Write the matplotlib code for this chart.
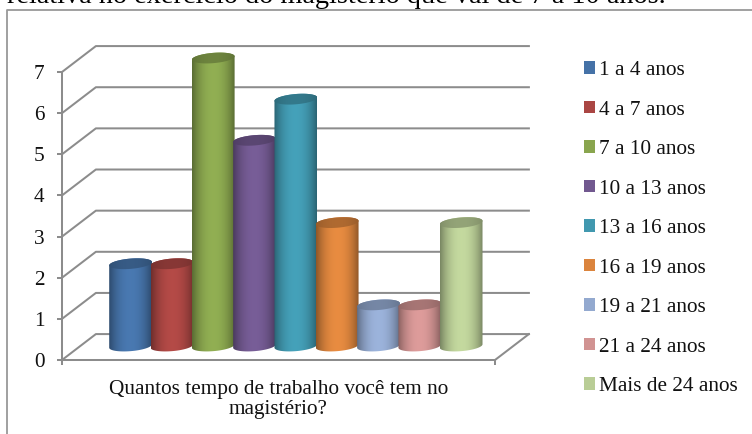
import numpy as np
import matplotlib
matplotlib.use("Agg")
import matplotlib.pyplot as plt
from matplotlib.lines import Line2D
from matplotlib.patches import Patch, Polygon

plt.rcParams['font.family'] = ['Liberation Serif', 'DejaVu Serif']

# --- data ---------------------------------------------------------------
categories = ["1 a 4 anos", "4 a 7 anos", "7 a 10 anos", "10 a 13 anos", "13 a 16 anos",
              "16 a 19 anos", "19 a 21 anos", "21 a 24 anos", "Mais de 24 anos"]
values = [2, 2, 7, 5, 6, 3, 1, 1, 3]
value_ticks = [0, 1, 2, 3, 4, 5, 6, 7]
xlabel = "Quantos tempo de trabalho você tem no\nmagistério?"
top_line = "relativa no exercício do magistério que vai de 7 a 10 anos."

colors = ["#4572A7", "#AA4643", "#89A54E", "#71588F", "#4198AF",
          "#DB843D", "#93A9CF", "#D19392", "#B9CD96"]

# --- layout (pixels of the 752x434 figure) ------------------------------
W, H = 752, 434
GRID = "#8c8c8c"
LW = 1.45
DX, DY = 0.82, 0.63       # depth of the 3d box, in data units
BASE = 0.34               # cylinder base sits this far up the floor
BAR_W = 1.035
ELL_B = 0.125
TILT = 0.08

fig = plt.figure(figsize=(W/100, H/100), dpi=100)
ax = fig.add_axes([62/W, (H-360)/H, 433/W, 288/H])
ax.patch.set_visible(False)
x0, x1 = -1.66, 8.82
ax.set_xlim(x0, x1); ax.set_ylim(0, 7)
ax.set_autoscale_on(False)

# --- box walls ----------------------------------------------------------
for v in value_ticks:
    ax.plot([x0, x0+DX, x1+DX], [v, v+DY, v+DY], color=GRID, lw=LW, clip_on=False, zorder=1)
ax.plot([x1, x1+DX], [0, DY], color=GRID, lw=LW, clip_on=False, zorder=1)

for s in ("top", "right"):
    ax.spines[s].set_visible(False)
for s in ("left", "bottom"):
    ax.spines[s].set_color(GRID); ax.spines[s].set_linewidth(LW)
ax.set_yticks(value_ticks)
ax.set_xticks([x0, x1]); ax.set_xticklabels(["", ""])
ax.tick_params(axis="both", color=GRID, width=LW, length=3.6)
ax.tick_params(axis="y", labelsize=15.3, pad=9, labelcolor="#111111")
ax.set_xlabel(xlabel, fontsize=15.3, color="#111111", labelpad=7, linespacing=1.12)


def shade(color, edge, mid):
    # horizontal light->dark ramp across one cylinder
    rgb = np.array(matplotlib.colors.to_rgb(color))
    t = np.linspace(-1, 1, 64)
    f = mid - (mid-edge)*np.abs(t)**2.2
    return np.clip(rgb*f[:, None], 0, 1)[None, :, :]


def ellipse(cx, cy, t):
    a = BAR_W/2
    return np.c_[cx + a*np.cos(t), cy + ELL_B*np.sin(t) + TILT*a*np.cos(t)]


def painted(img, cx, y0, y1, outline, z):
    im = ax.imshow(img, extent=(cx-BAR_W/2, cx+BAR_W/2, y0, y1), aspect="auto",
                   interpolation="bilinear", zorder=z)
    clip = Polygon(outline, closed=True, transform=ax.transData)
    im.set_clip_box(fig.bbox)
    im.set_clip_path(clip)


# --- cylinders ----------------------------------------------------------
for i, (v, c) in enumerate(zip(values, colors)):
    ytop = BASE + v
    low = ellipse(i, BASE, np.linspace(np.pi, 2*np.pi, 40))
    up = ellipse(i, ytop, np.linspace(0, np.pi, 40))
    painted(shade(c, 0.66, 1.06), i, BASE-0.3, ytop+0.3, np.r_[low, up], 3+i)
    face = ellipse(i, ytop, np.linspace(0, 2*np.pi, 80))
    painted(shade(c, 0.7, 0.8), i, ytop-0.3, ytop+0.3, face, 3+i+0.5)

# --- legend -------------------------------------------------------------
handles = [Patch(facecolor=c, edgecolor="none", label=n) for c, n in zip(colors, categories)]
leg = fig.legend(handles=handles, loc="upper left", bbox_to_anchor=(584/W, 1-61/H),
                 frameon=False, fontsize=15.3, borderpad=0, borderaxespad=0,
                 handlelength=0.52, handleheight=0.52, handletextpad=0.2,
                 labelspacing=0.965, labelcolor="#111111")

# --- outer frame and the line of text cut by the crop -------------------
fig.add_artist(Line2D([6.5/W, 6.5/W, 1], [0, 1-9.5/H, 1-9.5/H], color="#999999", lw=1.3))
fig.text(7/W, 1-3/H, top_line, fontsize=20.3, color="black", ha="left", va="baseline")

fig.savefig("out.png", dpi=100)
